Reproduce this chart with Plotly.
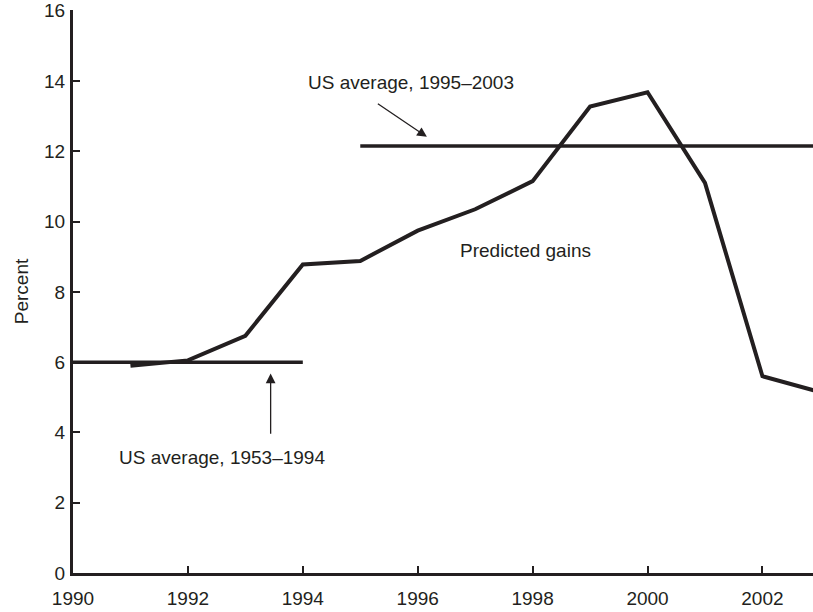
import plotly.graph_objects as go

years = [1991, 1992, 1993, 1994, 1995, 1996, 1997, 1998, 1999, 2000, 2001, 2002, 2003]
predicted = [5.9, 6.05, 6.75, 8.78, 8.88, 9.74, 10.35, 11.15, 13.27, 13.68, 11.1, 5.6, 5.15]

avg1_x = [1990, 1994]
avg1_y = [6.0, 6.0]
avg2_x = [1995, 2003]
avg2_y = [12.15, 12.15]

xticks = [1990, 1992, 1994, 1996, 1998, 2000, 2002]
yticks = [0, 2, 4, 6, 8, 10, 12, 14, 16]

FONT = "Liberation Sans, Arial, sans-serif"
INK = "#231f20"
FS = 19

fig = go.Figure()
fig.add_trace(go.Scatter(x=avg1_x, y=avg1_y, mode="lines",
                         line=dict(color=INK, width=3.5), showlegend=False))
fig.add_trace(go.Scatter(x=avg2_x, y=avg2_y, mode="lines",
                         line=dict(color=INK, width=3.5), showlegend=False))
fig.add_trace(go.Scatter(x=years, y=predicted, mode="lines",
                         line=dict(color=INK, width=4), showlegend=False))

fig.add_annotation(x=1993.44, y=5.68, ax=1993.44, ay=3.92, xref="x", yref="y",
                   axref="x", ayref="y", showarrow=True, arrowhead=2, arrowsize=1.5,
                   arrowwidth=1.3, arrowcolor=INK, text="")
fig.add_annotation(x=1992.6, y=3.3, text="US average, 1953–1994", showarrow=False,
                   xref="x", yref="y", font=dict(size=FS, color=INK, family=FONT))
fig.add_annotation(x=1996.16, y=12.41, ax=1995.28, ay=13.38, xref="x", yref="y",
                   axref="x", ayref="y", showarrow=True, arrowhead=2, arrowsize=1.5,
                   arrowwidth=1.3, arrowcolor=INK, text="")
fig.add_annotation(x=1995.88, y=13.95, text="US average, 1995–2003", showarrow=False,
                   xref="x", yref="y", font=dict(size=FS, color=INK, family=FONT))
fig.add_annotation(x=1997.88, y=9.18, text="Predicted gains", showarrow=False,
                   xref="x", yref="y", font=dict(size=FS, color=INK, family=FONT))

fig.update_layout(
    width=813, height=612,
    margin=dict(l=73, r=0, t=10, b=39),
    paper_bgcolor="white", plot_bgcolor="white",
    font=dict(family=FONT, size=FS, color=INK),
)
fig.update_xaxes(range=[1990, 2002.88], tickvals=xticks, ticktext=[str(v) for v in xticks],
                 showgrid=False, zeroline=False, showline=True, linecolor=INK, linewidth=3,
                 ticks="inside", ticklen=7, tickwidth=2, tickcolor=INK,
                 ticklabelstandoff=6, automargin=False)
fig.update_yaxes(range=[0, 16.02], tickvals=yticks, showgrid=False, zeroline=False,
                 showline=True, linecolor=INK, linewidth=3,
                 ticks="inside", ticklen=7, tickwidth=2, tickcolor=INK,
                 title=dict(text="Percent", font=dict(size=FS), standoff=11),
                 ticklabelstandoff=1, automargin=False)

fig.write_html("out.html", config={"displayModeBar": False},
               post_script="document.body.style.margin='0';document.body.style.overflow='hidden';")
